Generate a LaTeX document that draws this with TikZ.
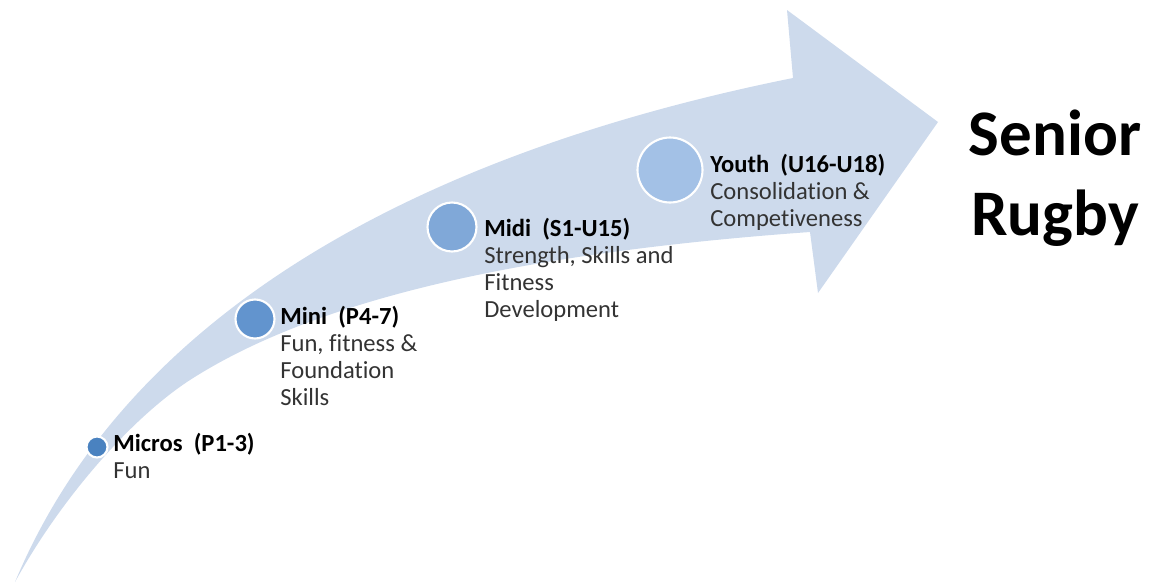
\documentclass[tikz,border=0pt]{standalone}
\usepackage{fontspec}
\setmainfont{Carlito}[Ligatures=NoCommon]
\definecolor{bandblue}{RGB}{205,218,236}
\definecolor{microsblue}{RGB}{74,130,192}
\definecolor{miniblue}{RGB}{98,148,206}
\definecolor{midiblue}{RGB}{128,168,216}
\definecolor{youthblue}{RGB}{163,193,230}
\newcommand{\stagename}[1]{\textcolor{black}{\textbf{#1}}}
\begin{document}
\begin{tikzpicture}[x=0.02cm,y=-0.02cm,
        band/.style={fill=bandblue,draw=none},
        stage/.style={circle,draw=white,line width=1.2pt,inner sep=0pt},
        info/.style={anchor=north west,align=left,inner sep=0pt,text=black!80,font=\fontsize{14}{15.4}\selectfont},
        big/.style={align=center,inner sep=0pt,font=\fontsize{37}{45.5}\selectfont\bfseries}
      ]
      \useasboundingbox (0,0) rectangle (1150,585);
      % curved arrow
      \fill[band] (15,582) .. controls (135,295) and (450,147) .. (793,78)
        -- (787,10) -- (938,122) -- (818,293) -- (810,232)
        .. controls (560,250) and (330,290) .. (190,380)
        .. controls (130,419) and (60,500) .. (15,582) -- cycle;
      % stages
      \node[stage,fill=microsblue,minimum size=0.42cm] (micros) at (97,447) {};
      \node[stage,fill=miniblue,minimum size=0.78cm] (mini) at (255,319) {};
      \node[stage,fill=midiblue,minimum size=0.98cm] (midi) at (452,227) {};
      \node[stage,fill=youthblue,minimum size=1.3cm] (youth) at (670,170) {};
      \node[info] (microsText) at (113,433) {\stagename{Micros\ \ (P1-3)}\\Fun};
      \node[info] (miniText) at (280,306) {\stagename{Mini\ \ (P4-7)}\\Fun, fitness \&\\Foundation\\Skills};
      \node[info] (midiText) at (484,218) {\stagename{Midi\ \ (S1-U15)}\\Strength, Skills and\\Fitness\\Development};
      \node[info] (youthText) at (710,154) {\stagename{Youth\ \ (U16-U18)}\\Consolidation \&\\Competiveness};
      \node[big] (senior) at (1055,178) {Senior\\Rugby};
    \end{tikzpicture}
\end{document}
